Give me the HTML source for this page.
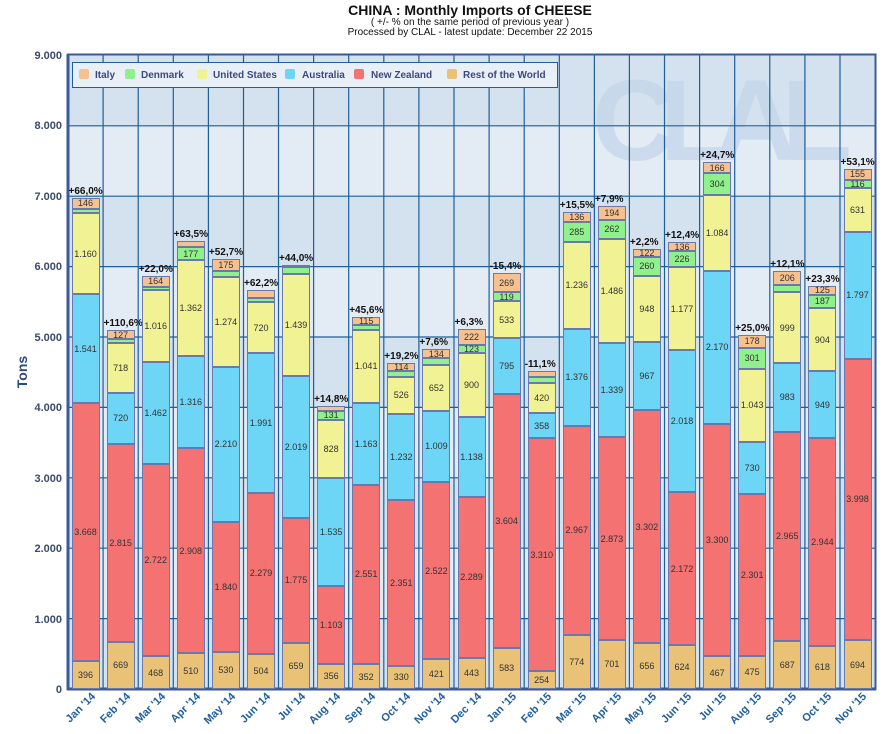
<!DOCTYPE html>
<html><head><meta charset="utf-8"><style>
body{margin:0;background:#fff;width:884px;height:734px;position:relative;overflow:hidden;font-family:"Liberation Sans",sans-serif}
.b{position:absolute;top:0;height:689px;width:28px;display:flex;flex-direction:column-reverse}
.b div{box-sizing:border-box;border:1px solid #6b78ad;display:flex;align-items:center;justify-content:center;font-size:9px;color:#333;overflow:visible;white-space:nowrap}
.b .p{border:none;height:14px;font-size:10px;font-weight:bold;color:#111;justify-content:flex-start;margin-left:-3px;align-items:flex-end;padding-bottom:1px}
.r{background:#e9c177}.n{background:#f47272}.a{background:#6dd5f6}.u{background:#f1f293}.d{background:#8ff08c}.i{background:#f4c18f}
</style></head><body>
<svg width="884" height="734" style="position:absolute;left:0;top:0" font-family="Liberation Sans, sans-serif">
<text x="470" y="15" text-anchor="middle" font-size="14" font-weight="bold" fill="#111">CHINA : Monthly Imports of CHEESE</text>
<text x="470" y="25" text-anchor="middle" font-size="10" fill="#111">( +/- % on the same period of previous year )</text>
<text x="470" y="35" text-anchor="middle" font-size="10" fill="#111">Processed by CLAL - latest update: December 22 2015</text>
<g>
<rect x="68" y="55.4" width="807" height="70.4" fill="#d4e2ef"/>
<rect x="68" y="125.8" width="807" height="70.4" fill="#e3ebf5"/>
<rect x="68" y="196.2" width="807" height="70.4" fill="#d4e2ef"/>
<rect x="68" y="266.6" width="807" height="70.4" fill="#e3ebf5"/>
<rect x="68" y="337" width="807" height="70.4" fill="#d4e2ef"/>
<rect x="68" y="407.4" width="807" height="70.4" fill="#e3ebf5"/>
<rect x="68" y="477.8" width="807" height="70.4" fill="#d4e2ef"/>
<rect x="68" y="548.2" width="807" height="70.4" fill="#e3ebf5"/>
<rect x="68" y="618.6" width="807" height="70.4" fill="#d4e2ef"/>
</g>
<text x="592" y="160" font-size="115" font-weight="bold" fill="#c3d4ea" opacity="0.7" textLength="260">CLAL</text>
<g stroke="#1d5f9a" stroke-width="1.2">
<line x1="68" x2="875" y1="125.8" y2="125.8"/><line x1="68" x2="875" y1="196.2" y2="196.2"/><line x1="68" x2="875" y1="266.6" y2="266.6"/><line x1="68" x2="875" y1="337" y2="337"/><line x1="68" x2="875" y1="407.4" y2="407.4"/><line x1="68" x2="875" y1="477.8" y2="477.8"/><line x1="68" x2="875" y1="548.2" y2="548.2"/><line x1="68" x2="875" y1="618.6" y2="618.6"/>
<line x1="103.1" x2="103.1" y1="55" y2="689"/><line x1="138.2" x2="138.2" y1="55" y2="689"/><line x1="173.3" x2="173.3" y1="55" y2="689"/><line x1="208.4" x2="208.4" y1="55" y2="689"/><line x1="243.5" x2="243.5" y1="55" y2="689"/><line x1="278.5" x2="278.5" y1="55" y2="689"/><line x1="313.6" x2="313.6" y1="55" y2="689"/><line x1="348.7" x2="348.7" y1="55" y2="689"/><line x1="383.8" x2="383.8" y1="55" y2="689"/><line x1="418.9" x2="418.9" y1="55" y2="689"/><line x1="454" x2="454" y1="55" y2="689"/><line x1="489.1" x2="489.1" y1="55" y2="689"/><line x1="524.2" x2="524.2" y1="55" y2="689"/><line x1="559.3" x2="559.3" y1="55" y2="689"/><line x1="594.4" x2="594.4" y1="55" y2="689"/><line x1="629.4" x2="629.4" y1="55" y2="689"/><line x1="664.5" x2="664.5" y1="55" y2="689"/><line x1="699.6" x2="699.6" y1="55" y2="689"/><line x1="734.7" x2="734.7" y1="55" y2="689"/><line x1="769.8" x2="769.8" y1="55" y2="689"/><line x1="804.9" x2="804.9" y1="55" y2="689"/><line x1="840" x2="840" y1="55" y2="689"/>
</g>
<rect x="68" y="54.5" width="807.5" height="634.5" fill="none" stroke="#3a5a9a" stroke-width="2"/>
<line x1="68" x2="68" y1="54" y2="690" stroke="#3a5a9a" stroke-width="3"/>
<line x1="67" x2="876" y1="689" y2="689" stroke="#3a5a9a" stroke-width="3"/>
<g font-size="11" font-weight="bold" fill="#3a4a70" text-anchor="end">
<text x="62" y="59">9.000</text><text x="62" y="129">8.000</text><text x="62" y="200">7.000</text><text x="62" y="270">6.000</text><text x="62" y="341">5.000</text><text x="62" y="411">4.000</text><text x="62" y="482">3.000</text><text x="62" y="552">2.000</text><text x="62" y="623">1.000</text><text x="62" y="693">0</text>
</g>
<text transform="translate(27,372) rotate(-90)" text-anchor="middle" font-size="14" font-weight="bold" fill="#2a4a80">Tons</text>
<g font-size="11" font-weight="bold" fill="#1f5fa0" text-anchor="end">
<text transform="translate(96,697) rotate(-45)">Jan '14</text>
<text transform="translate(131,697) rotate(-45)">Feb '14</text>
<text transform="translate(166,697) rotate(-45)">Mar '14</text>
<text transform="translate(201,697) rotate(-45)">Apr '14</text>
<text transform="translate(236,697) rotate(-45)">May '14</text>
<text transform="translate(271,697) rotate(-45)">Jun '14</text>
<text transform="translate(306,697) rotate(-45)">Jul '14</text>
<text transform="translate(341,697) rotate(-45)">Aug '14</text>
<text transform="translate(376,697) rotate(-45)">Sep '14</text>
<text transform="translate(411,697) rotate(-45)">Oct '14</text>
<text transform="translate(446,697) rotate(-45)">Nov '14</text>
<text transform="translate(482,697) rotate(-45)">Dec '14</text>
<text transform="translate(517,697) rotate(-45)">Jan '15</text>
<text transform="translate(552,697) rotate(-45)">Feb '15</text>
<text transform="translate(587,697) rotate(-45)">Mar '15</text>
<text transform="translate(622,697) rotate(-45)">Apr '15</text>
<text transform="translate(657,697) rotate(-45)">May '15</text>
<text transform="translate(692,697) rotate(-45)">Jun '15</text>
<text transform="translate(727,697) rotate(-45)">Jul '15</text>
<text transform="translate(762,697) rotate(-45)">Aug '15</text>
<text transform="translate(797,697) rotate(-45)">Sep '15</text>
<text transform="translate(832,697) rotate(-45)">Oct '15</text>
<text transform="translate(867,697) rotate(-45)">Nov '15</text>
</g>
<rect x="72.5" y="62.5" width="485" height="25" fill="#e8eff6" stroke="#1d5f9a" stroke-width="1"/>
<g font-size="10" font-weight="bold" fill="#3a4a80">
<rect x="79" y="69" width="10" height="10" rx="2" fill="#f4c18f"/><text x="95" y="78">Italy</text>
<rect x="125" y="69" width="10" height="10" rx="2" fill="#8ff08c"/><text x="141" y="78">Denmark</text>
<rect x="197" y="69" width="10" height="10" rx="2" fill="#f1f293"/><text x="213" y="78">United States</text>
<rect x="285" y="69" width="10" height="10" rx="2" fill="#6dd5f6"/><text x="302" y="78">Australia</text>
<rect x="354" y="69" width="10" height="10" rx="2" fill="#f47272"/><text x="371" y="78">New Zealand</text>
<rect x="447" y="69" width="10" height="10" rx="2" fill="#e9c177"/><text x="463" y="78">Rest of the World</text>
</g>
</svg>

<div class="b" style="left:71.5px"><div class="r" style="height:calc(396px*.0704)">396</div><div class="n" style="height:calc(3668px*.0704)">3.668</div><div class="a" style="height:calc(1541px*.0704)">1.541</div><div class="u" style="height:calc(1160px*.0704)">1.160</div><div class="d" style="height:calc(60px*.0704)"></div><div class="i" style="height:calc(146px*.0704)">146</div><div class="p">+66,0%</div></div>
<div class="b" style="left:106.6px"><div class="r" style="height:calc(669px*.0704)">669</div><div class="n" style="height:calc(2815px*.0704)">2.815</div><div class="a" style="height:calc(720px*.0704)">720</div><div class="u" style="height:calc(718px*.0704)">718</div><div class="d" style="height:calc(45px*.0704)"></div><div class="i" style="height:calc(127px*.0704)">127</div><div class="p">+110,6%</div></div>
<div class="b" style="left:141.7px"><div class="r" style="height:calc(468px*.0704)">468</div><div class="n" style="height:calc(2722px*.0704)">2.722</div><div class="a" style="height:calc(1462px*.0704)">1.462</div><div class="u" style="height:calc(1016px*.0704)">1.016</div><div class="d" style="height:calc(40px*.0704)"></div><div class="i" style="height:calc(164px*.0704)">164</div><div class="p">+22,0%</div></div>
<div class="b" style="left:176.8px"><div class="r" style="height:calc(510px*.0704)">510</div><div class="n" style="height:calc(2908px*.0704)">2.908</div><div class="a" style="height:calc(1316px*.0704)">1.316</div><div class="u" style="height:calc(1362px*.0704)">1.362</div><div class="d" style="height:calc(177px*.0704)">177</div><div class="i" style="height:calc(90px*.0704)"></div><div class="p">+63,5%</div></div>
<div class="b" style="left:211.9px"><div class="r" style="height:calc(530px*.0704)">530</div><div class="n" style="height:calc(1840px*.0704)">1.840</div><div class="a" style="height:calc(2210px*.0704)">2.210</div><div class="u" style="height:calc(1274px*.0704)">1.274</div><div class="d" style="height:calc(80px*.0704)"></div><div class="i" style="height:calc(175px*.0704)">175</div><div class="p">+52,7%</div></div>
<div class="b" style="left:247px"><div class="r" style="height:calc(504px*.0704)">504</div><div class="n" style="height:calc(2279px*.0704)">2.279</div><div class="a" style="height:calc(1991px*.0704)">1.991</div><div class="u" style="height:calc(720px*.0704)">720</div><div class="d" style="height:calc(65px*.0704)"></div><div class="i" style="height:calc(105px*.0704)"></div><div class="p">+62,2%</div></div>
<div class="b" style="left:282px"><div class="r" style="height:calc(659px*.0704)">659</div><div class="n" style="height:calc(1775px*.0704)">1.775</div><div class="a" style="height:calc(2019px*.0704)">2.019</div><div class="u" style="height:calc(1439px*.0704)">1.439</div><div class="d" style="height:calc(100px*.0704)"></div><div class="i" style="height:calc(15px*.0704)"></div><div class="p">+44,0%</div></div>
<div class="b" style="left:317.1px"><div class="r" style="height:calc(356px*.0704)">356</div><div class="n" style="height:calc(1103px*.0704)">1.103</div><div class="a" style="height:calc(1535px*.0704)">1.535</div><div class="u" style="height:calc(828px*.0704)">828</div><div class="d" style="height:calc(131px*.0704)">131</div><div class="i" style="height:calc(70px*.0704)"></div><div class="p">+14,8%</div></div>
<div class="b" style="left:352.2px"><div class="r" style="height:calc(352px*.0704)">352</div><div class="n" style="height:calc(2551px*.0704)">2.551</div><div class="a" style="height:calc(1163px*.0704)">1.163</div><div class="u" style="height:calc(1041px*.0704)">1.041</div><div class="d" style="height:calc(65px*.0704)"></div><div class="i" style="height:calc(115px*.0704)">115</div><div class="p">+45,6%</div></div>
<div class="b" style="left:387.3px"><div class="r" style="height:calc(330px*.0704)">330</div><div class="n" style="height:calc(2351px*.0704)">2.351</div><div class="a" style="height:calc(1232px*.0704)">1.232</div><div class="u" style="height:calc(526px*.0704)">526</div><div class="d" style="height:calc(85px*.0704)"></div><div class="i" style="height:calc(114px*.0704)">114</div><div class="p">+19,2%</div></div>
<div class="b" style="left:422.4px"><div class="r" style="height:calc(421px*.0704)">421</div><div class="n" style="height:calc(2522px*.0704)">2.522</div><div class="a" style="height:calc(1009px*.0704)">1.009</div><div class="u" style="height:calc(652px*.0704)">652</div><div class="d" style="height:calc(95px*.0704)"></div><div class="i" style="height:calc(134px*.0704)">134</div><div class="p">+7,6%</div></div>
<div class="b" style="left:457.5px"><div class="r" style="height:calc(443px*.0704)">443</div><div class="n" style="height:calc(2289px*.0704)">2.289</div><div class="a" style="height:calc(1138px*.0704)">1.138</div><div class="u" style="height:calc(900px*.0704)">900</div><div class="d" style="height:calc(123px*.0704)">123</div><div class="i" style="height:calc(222px*.0704)">222</div><div class="p">+6,3%</div></div>
<div class="b" style="left:492.6px"><div class="r" style="height:calc(583px*.0704)">583</div><div class="n" style="height:calc(3604px*.0704)">3.604</div><div class="a" style="height:calc(795px*.0704)">795</div><div class="u" style="height:calc(533px*.0704)">533</div><div class="d" style="height:calc(119px*.0704)">119</div><div class="i" style="height:calc(269px*.0704)">269</div><div class="p">-15,4%</div></div>
<div class="b" style="left:527.7px"><div class="r" style="height:calc(254px*.0704)">254</div><div class="n" style="height:calc(3310px*.0704)">3.310</div><div class="a" style="height:calc(358px*.0704)">358</div><div class="u" style="height:calc(420px*.0704)">420</div><div class="d" style="height:calc(95px*.0704)"></div><div class="i" style="height:calc(85px*.0704)"></div><div class="p">-11,1%</div></div>
<div class="b" style="left:562.8px"><div class="r" style="height:calc(774px*.0704)">774</div><div class="n" style="height:calc(2967px*.0704)">2.967</div><div class="a" style="height:calc(1376px*.0704)">1.376</div><div class="u" style="height:calc(1236px*.0704)">1.236</div><div class="d" style="height:calc(285px*.0704)">285</div><div class="i" style="height:calc(136px*.0704)">136</div><div class="p">+15,5%</div></div>
<div class="b" style="left:597.9px"><div class="r" style="height:calc(701px*.0704)">701</div><div class="n" style="height:calc(2873px*.0704)">2.873</div><div class="a" style="height:calc(1339px*.0704)">1.339</div><div class="u" style="height:calc(1486px*.0704)">1.486</div><div class="d" style="height:calc(262px*.0704)">262</div><div class="i" style="height:calc(194px*.0704)">194</div><div class="p">+7,9%</div></div>
<div class="b" style="left:632.9px"><div class="r" style="height:calc(656px*.0704)">656</div><div class="n" style="height:calc(3302px*.0704)">3.302</div><div class="a" style="height:calc(967px*.0704)">967</div><div class="u" style="height:calc(948px*.0704)">948</div><div class="d" style="height:calc(260px*.0704)">260</div><div class="i" style="height:calc(122px*.0704)">122</div><div class="p">+2,2%</div></div>
<div class="b" style="left:668px"><div class="r" style="height:calc(624px*.0704)">624</div><div class="n" style="height:calc(2172px*.0704)">2.172</div><div class="a" style="height:calc(2018px*.0704)">2.018</div><div class="u" style="height:calc(1177px*.0704)">1.177</div><div class="d" style="height:calc(226px*.0704)">226</div><div class="i" style="height:calc(136px*.0704)">136</div><div class="p">+12,4%</div></div>
<div class="b" style="left:703.1px"><div class="r" style="height:calc(467px*.0704)">467</div><div class="n" style="height:calc(3300px*.0704)">3.300</div><div class="a" style="height:calc(2170px*.0704)">2.170</div><div class="u" style="height:calc(1084px*.0704)">1.084</div><div class="d" style="height:calc(304px*.0704)">304</div><div class="i" style="height:calc(166px*.0704)">166</div><div class="p">+24,7%</div></div>
<div class="b" style="left:738.2px"><div class="r" style="height:calc(475px*.0704)">475</div><div class="n" style="height:calc(2301px*.0704)">2.301</div><div class="a" style="height:calc(730px*.0704)">730</div><div class="u" style="height:calc(1043px*.0704)">1.043</div><div class="d" style="height:calc(301px*.0704)">301</div><div class="i" style="height:calc(178px*.0704)">178</div><div class="p">+25,0%</div></div>
<div class="b" style="left:773.3px"><div class="r" style="height:calc(687px*.0704)">687</div><div class="n" style="height:calc(2965px*.0704)">2.965</div><div class="a" style="height:calc(983px*.0704)">983</div><div class="u" style="height:calc(999px*.0704)">999</div><div class="d" style="height:calc(100px*.0704)"></div><div class="i" style="height:calc(206px*.0704)">206</div><div class="p">+12,1%</div></div>
<div class="b" style="left:808.4px"><div class="r" style="height:calc(618px*.0704)">618</div><div class="n" style="height:calc(2944px*.0704)">2.944</div><div class="a" style="height:calc(949px*.0704)">949</div><div class="u" style="height:calc(904px*.0704)">904</div><div class="d" style="height:calc(187px*.0704)">187</div><div class="i" style="height:calc(125px*.0704)">125</div><div class="p">+23,3%</div></div>
<div class="b" style="left:843.5px"><div class="r" style="height:calc(694px*.0704)">694</div><div class="n" style="height:calc(3998px*.0704)">3.998</div><div class="a" style="height:calc(1797px*.0704)">1.797</div><div class="u" style="height:calc(631px*.0704)">631</div><div class="d" style="height:calc(116px*.0704)">116</div><div class="i" style="height:calc(155px*.0704)">155</div><div class="p">+53,1%</div></div>
</body></html>
